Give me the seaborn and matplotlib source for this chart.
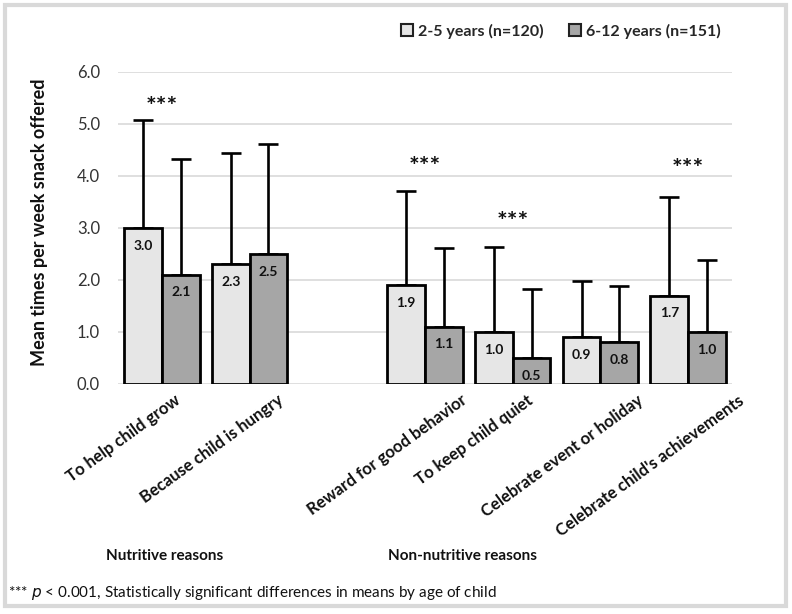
import numpy as np
import pandas as pd
import matplotlib
matplotlib.use("Agg")
import matplotlib.pyplot as plt
import matplotlib.transforms as mtransforms
from matplotlib.patches import Patch, Rectangle
import seaborn as sns

# ---- data ----
categories = ["To help child grow", "Because child is hungry",
              "Reward for good behavior", "To keep child quiet",
              "Celebrate event or holiday", "Celebrate child's achievements"]
slot_order = ["To help child grow", "Because child is hungry", " ",
              "Reward for good behavior", "To keep child quiet",
              "Celebrate event or holiday", "Celebrate child's achievements"]
groups = ["2-5 years (n=120)", "6-12 years (n=151)"]
mean_young = [3.0, 2.3, 1.9, 1.0, 0.9, 1.7]
mean_old = [2.1, 2.5, 1.1, 0.5, 0.8, 1.0]
sd_young = [2.08, 2.15, 1.82, 1.64, 1.08, 1.90]
sd_old = [2.23, 2.12, 1.52, 1.33, 1.08, 1.38]
significant = ["To help child grow", "Reward for good behavior",
               "To keep child quiet", "Celebrate child's achievements"]
star_heights = [5.31, 4.16, 3.11, 4.13]
section_labels = ["Nutritive reasons", "Non-nutritive reasons"]
yticks = [0, 1, 2, 3, 4, 5, 6]

df = pd.DataFrame({
    "reason": categories * 2,
    "age": [groups[0]] * len(categories) + [groups[1]] * len(categories),
    "mean": mean_young + mean_old,
    "sd": sd_young + sd_old,
})

colors = {groups[0]: "#e6e6e6", groups[1]: "#a6a6a6"}

sns.set_theme(style="white")
plt.rcParams["font.family"] = ["Lato", "DejaVu Sans"]

W, H = 792, 614
fig = plt.figure(figsize=(W / 100, H / 100), dpi=100)
ax = fig.add_axes([118 / W, 1 - 384 / H, (732 - 118) / W, (384 - 72) / H])

sns.barplot(data=df, x="reason", y="mean", hue="age", order=slot_order,
            hue_order=groups, palette=colors, width=0.86, gap=0,
            edgecolor="black", linewidth=2.0, errorbar=None, legend=False,
            ax=ax, zorder=2)

sd_lookup = {(r, a): s for r, a, s in zip(df["reason"], df["age"], df["sd"])}
for cont, grp in zip(ax.containers, groups):
    for bar in cont:
        h = bar.get_height()
        if not np.isfinite(h) or h == 0:
            continue
        xc = bar.get_x() + bar.get_width() / 2
        reason = slot_order[int(round(xc))]
        sd = sd_lookup[(reason, grp)]
        ax.errorbar([xc], [h], yerr=[[0], [sd]], fmt="none", ecolor="black",
                    elinewidth=1.9, capsize=7, capthick=1.9, zorder=1)
    ax.bar_label(cont, fmt="%.1f", padding=-17, fontsize=10,
                 fontweight="bold", color="#111111", zorder=3)

for reason, yh in zip(significant, star_heights):
    ax.text(slot_order.index(reason), yh, "***", ha="center", va="center",
            fontsize=18, fontweight="bold", color="#111111")

ax.set_ylim(0, 6)
ax.set_xlim(-0.5, len(slot_order) - 0.5)
ax.set_yticks(yticks)
ax.set_yticklabels([f"{v:.1f}" for v in yticks], fontsize=12, color="#333333")
ax.yaxis.grid(True, color="#d9d9d9", linewidth=1.2, zorder=0)
ax.set_axisbelow(True)
for s in ax.spines.values():
    s.set_visible(False)
ax.tick_params(axis="y", length=0, pad=13)
ax.tick_params(axis="x", length=0, pad=6)
ax.set_xticks(range(len(slot_order)))
ax.set_xticklabels(slot_order, rotation=36, ha="center", va="top",
                   rotation_mode="default",
                   fontsize=12, fontweight="bold",
                   color="#111111")
shift = mtransforms.ScaledTranslation(-38 / 100, 0, fig.dpi_scale_trans)
for lbl in ax.get_xticklabels():
    lbl.set_transform(lbl.get_transform() + shift)
ax.set_xlabel("")
ax.set_ylabel("Mean times per week snack offered", fontsize=13,
              fontweight="bold", color="#111111")
ax.yaxis.set_label_coords((48 - 118) / (732 - 118), 0.52)

handles = [Patch(facecolor=colors[g], edgecolor="#222222", linewidth=1.5, label=g)
           for g in groups]
fig.legend(handles=handles, loc="center right", bbox_to_anchor=(735 / W, 1 - 31 / H),
           ncol=2, frameon=False, handlelength=0.75, handleheight=0.75,
           handletextpad=0.3, columnspacing=1.6,
           prop={"weight": "bold", "size": 11.5, "family": ["Lato", "DejaVu Sans"]})

fig.text(165 / W, 1 - 556 / H, section_labels[0], ha="center", va="center",
         fontsize=11, fontweight="bold", color="#111111")
fig.text(462 / W, 1 - 556 / H, section_labels[1], ha="center", va="center",
         fontsize=11, fontweight="bold", color="#111111")
fig.text(8 / W, 1 - 593 / H, "*** $\\it{p}$ < 0.001, Statistically significant differences in means by age of child",
         ha="left", va="center", fontsize=11, color="#111111")

fig.patches.append(Rectangle((5 / W, 1 - 606 / H), 781 / W, 601 / H,
                             transform=fig.transFigure, fill=False,
                             edgecolor="#d9d9d9", linewidth=3))

fig.savefig("out.png", dpi=100)
